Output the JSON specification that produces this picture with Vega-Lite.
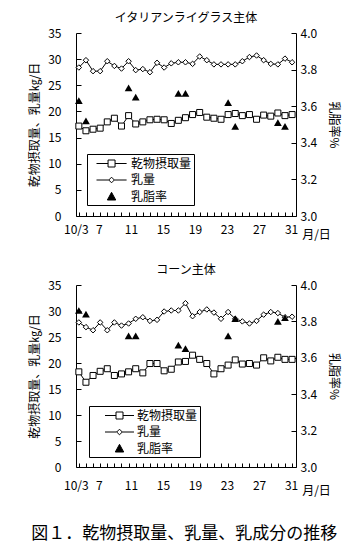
{
  "$schema": "https://vega.github.io/schema/vega-lite/v6.json",
  "padding": {"left": 28, "top": 12, "right": 8, "bottom": 8},
  "spacing": 24,
  "config": {
    "font": "Noto Sans CJK JP",
    "view": {"stroke": null},
    "axis": {"domainColor": "black", "tickColor": "black", "labelColor": "black", "titleColor": "black", "grid": false, "labelFontSize": 12, "titleFontSize": 12, "titleFontWeight": "normal", "tickSize": -5, "domainWidth": 1, "tickWidth": 1, "labelFont": "Noto Sans CJK JP", "titleFont": "Noto Sans CJK JP"},
    "axisLeft": {"labelPadding": 20, "titlePadding": 6},
    "axisRight": {"labelPadding": 9, "titlePadding": 10},
    "title": {"fontWeight": "normal", "fontSize": 12, "color": "black", "font": "Noto Sans CJK JP"},
    "legend": {"labelColor": "black"}
  },
  "title": {"text": "図１．乾物摂取量、乳量、乳成分の推移", "orient": "bottom", "anchor": "middle", "fontSize": 17, "offset": 30},
  "resolve": {"scale": {"shape": "independent", "fill": "independent", "stroke": "independent"}, "legend": {"shape": "independent", "fill": "independent", "stroke": "independent"}},
  "datasets": {
    "italian": [
      {"day": 3, "dmi": 17.2, "milk": 28.4, "fat": 3.63},
      {"day": 4, "dmi": 16.3, "milk": 29.8, "fat": 3.52},
      {"day": 5, "dmi": 16.6, "milk": 27.7},
      {"day": 6, "dmi": 16.8, "milk": 27.7},
      {"day": 7, "dmi": 18.0, "milk": 29.6},
      {"day": 8, "dmi": 18.7, "milk": 28.7},
      {"day": 9, "dmi": 17.2, "milk": 28.2},
      {"day": 10, "dmi": 19.2, "milk": 29.6, "fat": 3.70},
      {"day": 11, "dmi": 17.6, "milk": 27.9, "fat": 3.65},
      {"day": 12, "dmi": 18.0, "milk": 28.1},
      {"day": 13, "dmi": 18.4, "milk": 27.5},
      {"day": 14, "dmi": 18.5, "milk": 29.3},
      {"day": 15, "dmi": 18.4, "milk": 28.4},
      {"day": 16, "dmi": 17.7, "milk": 29.2},
      {"day": 17, "dmi": 18.3, "milk": 29.4, "fat": 3.67},
      {"day": 18, "dmi": 18.8, "milk": 29.4, "fat": 3.67},
      {"day": 19, "dmi": 19.4, "milk": 29.1},
      {"day": 20, "dmi": 19.8, "milk": 30.5},
      {"day": 21, "dmi": 18.9, "milk": 29.8},
      {"day": 22, "dmi": 18.7, "milk": 29.0},
      {"day": 23, "dmi": 18.5, "milk": 29.0},
      {"day": 24, "dmi": 19.4, "milk": 29.0, "fat": 3.62},
      {"day": 25, "dmi": 19.6, "milk": 29.0, "fat": 3.49},
      {"day": 26, "dmi": 19.2, "milk": 29.6},
      {"day": 27, "dmi": 19.4, "milk": 30.4},
      {"day": 28, "dmi": 18.5, "milk": 30.7},
      {"day": 29, "dmi": 19.3, "milk": 29.8},
      {"day": 30, "dmi": 19.1, "milk": 29.1},
      {"day": 31, "dmi": 19.7, "milk": 29.0, "fat": 3.51},
      {"day": 32, "dmi": 19.2, "milk": 30.1, "fat": 3.49},
      {"day": 33, "dmi": 19.4, "milk": 29.4}
    ],
    "corn": [
      {"day": 3, "dmi": 18.3, "milk": 27.8, "fat": 3.86},
      {"day": 4, "dmi": 16.3, "milk": 26.9, "fat": 3.84},
      {"day": 5, "dmi": 17.6, "milk": 26.3},
      {"day": 6, "dmi": 18.4, "milk": 27.8},
      {"day": 7, "dmi": 18.9, "milk": 26.3},
      {"day": 8, "dmi": 17.6, "milk": 27.8},
      {"day": 9, "dmi": 17.9, "milk": 27.2},
      {"day": 10, "dmi": 18.3, "milk": 27.6, "fat": 3.72},
      {"day": 11, "dmi": 18.9, "milk": 28.5, "fat": 3.72},
      {"day": 12, "dmi": 18.1, "milk": 28.8},
      {"day": 13, "dmi": 19.9, "milk": 28.1},
      {"day": 14, "dmi": 19.9, "milk": 28.3},
      {"day": 15, "dmi": 18.5, "milk": 29.9},
      {"day": 16, "dmi": 18.8, "milk": 30.1},
      {"day": 17, "dmi": 20.2, "milk": 30.1, "fat": 3.67},
      {"day": 18, "dmi": 20.3, "milk": 31.5, "fat": 3.65},
      {"day": 19, "dmi": 21.5, "milk": 29.0},
      {"day": 20, "dmi": 20.7, "milk": 29.8},
      {"day": 21, "dmi": 19.9, "milk": 30.3},
      {"day": 22, "dmi": 17.9, "milk": 29.7},
      {"day": 23, "dmi": 18.9, "milk": 28.5},
      {"day": 24, "dmi": 19.6, "milk": 29.8, "fat": 3.72},
      {"day": 25, "dmi": 20.6, "milk": 28.5, "fat": 3.815},
      {"day": 26, "dmi": 19.8, "milk": 28.0},
      {"day": 27, "dmi": 19.9, "milk": 27.6},
      {"day": 28, "dmi": 19.6, "milk": 28.1},
      {"day": 29, "dmi": 21.0, "milk": 29.3},
      {"day": 30, "dmi": 20.4, "milk": 29.8},
      {"day": 31, "dmi": 21.1, "milk": 29.6, "fat": 3.80},
      {"day": 32, "dmi": 20.7, "milk": 28.8, "fat": 3.82},
      {"day": 33, "dmi": 20.7, "milk": 28.9}
    ]
  },
  "vconcat": [
    {
      "title": {"text": "イタリアンライグラス主体", "offset": 2},
      "width": 220,
      "height": 183,
      "data": {"name": "italian"},
      "encoding": {
        "x": {"field": "day", "type": "quantitative", "scale": {"domain": [2.6, 33.55], "nice": false, "zero": false},
          "axis": {"values": [3,4,5,6,7,8,9,10,11,12,13,14,15,16,17,18,19,20,21,22,23,24,25,26,27,28,29,30,31,32,33],
            "labelExpr": "datum.value == 3 ? '10/3' : ((datum.value - 3) % 4 == 0 && datum.value <= 31 ? '' + datum.value : '')",
            "labelOffset": {"expr": "datum.value == 3 ? -3 : (datum.value - 7) * 0.9 - 8.4"},
            "labelOverlap": false, "labelFlush": false, "labelPadding": 12, "tickSize": -4,
            "title": "月/日", "titleX": 240, "titleY": 18, "titleAngle": 0, "titleBaseline": "middle", "titleAlign": "center", "titlePadding": 0}}
      },
      "layer": [
        {
          "layer": [
            {"mark": {"type": "line", "color": "black", "strokeWidth": 1},
             "encoding": {"y": {"field": "dmi", "type": "quantitative", "scale": {"domain": [0, 35], "nice": false}, "axis": {"values": [0,5,10,15,20,25,30,35], "title": "乾物摂取量、乳量㎏/日", "orient": "left"}}}},
            {"mark": {"type": "line", "color": "black", "strokeWidth": 1},
             "encoding": {"y": {"field": "milk", "type": "quantitative", "scale": {"domain": [0, 35], "nice": false}, "axis": {"values": [0,5,10,15,20,25,30,35], "title": "乾物摂取量、乳量㎏/日", "orient": "left"}}}},
            {"mark": {"type": "point", "shape": "square", "filled": true, "fill": "white", "stroke": "black", "strokeWidth": 1, "size": 36, "opacity": 1},
             "encoding": {"y": {"field": "dmi", "type": "quantitative", "scale": {"domain": [0, 35], "nice": false}, "axis": {"values": [0,5,10,15,20,25,30,35], "title": "乾物摂取量、乳量㎏/日", "orient": "left"}}}},
            {"mark": {"type": "point", "shape": "diamond", "filled": true, "fill": "white", "stroke": "black", "strokeWidth": 1, "size": 30, "opacity": 1},
             "encoding": {"y": {"field": "milk", "type": "quantitative", "scale": {"domain": [0, 35], "nice": false}, "axis": {"values": [0,5,10,15,20,25,30,35], "title": "乾物摂取量、乳量㎏/日", "orient": "left"}}}},
            {"transform": [{"filter": "datum.day < 0"}],
             "mark": {"type": "point", "filled": true, "strokeWidth": 1, "opacity": 1},
             "encoding": {
               "y": {"field": "dmi", "type": "quantitative", "scale": {"domain": [0, 35], "nice": false}, "axis": {"values": [0,5,10,15,20,25,30,35], "title": "乾物摂取量、乳量㎏/日", "orient": "left"}},
               "shape": {"field": "series", "type": "nominal",
                 "scale": {"domain": ["乾物摂取量", "乳量", "乳脂率"], "range": ["M0,0H1.65M2.65,0H4.3M1.65,-0.5H2.65V0.5H1.65Z", "M0,0H1.75M2.55,0H4.3M2.15,-0.4L2.55,0L2.15,0.4L1.75,0Z", "M2.15,-0.6L2.75,0.5L1.55,0.5Z"]},
                 "legend": {"orient": "none", "legendX": 11, "legendY": 121, "title": null, "strokeColor": "black", "fillColor": "white", "padding": 2, "symbolSize": 196, "labelFontSize": 12, "labelOffset": 27, "rowPadding": 2.5, "symbolStrokeWidth": 1, "cornerRadius": 0, "labelFont": "Noto Sans CJK JP"}},
               "fill": {"field": "series", "type": "nominal",
                 "scale": {"domain": ["乾物摂取量", "乳量", "乳脂率"], "range": ["white", "white", "black"]},
                 "legend": {"orient": "none", "legendX": 11, "legendY": 121, "title": null, "strokeColor": "black", "fillColor": "white", "padding": 2, "symbolSize": 196, "labelFontSize": 12, "labelOffset": 27, "rowPadding": 2.5, "symbolStrokeWidth": 1, "cornerRadius": 0, "labelFont": "Noto Sans CJK JP"}},
               "stroke": {"field": "series", "type": "nominal",
                 "scale": {"domain": ["乾物摂取量", "乳量", "乳脂率"], "range": ["black", "black", "black"]},
                 "legend": {"orient": "none", "legendX": 11, "legendY": 121, "title": null, "strokeColor": "black", "fillColor": "white", "padding": 2, "symbolSize": 196, "labelFontSize": 12, "labelOffset": 27, "rowPadding": 2.5, "symbolStrokeWidth": 1, "cornerRadius": 0, "labelFont": "Noto Sans CJK JP"}}
             }}
          ]
        },
        {"mark": {"type": "point", "shape": "triangle-up", "filled": true, "color": "black", "size": 60, "opacity": 1},
         "encoding": {"y": {"field": "fat", "type": "quantitative", "scale": {"domain": [3, 4], "nice": false, "zero": false}, "axis": {"orient": "right", "values": [3, 3.2, 3.4, 3.6, 3.8, 4], "format": ".1f", "title": "乳脂率%"}}}}
      ],
      "resolve": {"scale": {"y": "independent"}}
    },
    {
      "title": {"text": "コーン主体", "offset": 2},
      "width": 220,
      "height": 182,
      "data": {"name": "corn"},
      "encoding": {
        "x": {"field": "day", "type": "quantitative", "scale": {"domain": [2.6, 33.55], "nice": false, "zero": false},
          "axis": {"values": [3,4,5,6,7,8,9,10,11,12,13,14,15,16,17,18,19,20,21,22,23,24,25,26,27,28,29,30,31,32,33],
            "labelExpr": "datum.value == 3 ? '10/3' : ((datum.value - 3) % 4 == 0 && datum.value <= 31 ? '' + datum.value : '')",
            "labelOffset": {"expr": "datum.value == 3 ? -3 : (datum.value - 7) * 0.9 - 8.4"},
            "labelOverlap": false, "labelFlush": false, "labelPadding": 17, "tickSize": -4,
            "title": "月/日", "titleX": 240, "titleY": 23, "titleAngle": 0, "titleBaseline": "middle", "titleAlign": "center", "titlePadding": 0}}
      },
      "layer": [
        {
          "layer": [
            {"mark": {"type": "line", "color": "black", "strokeWidth": 1},
             "encoding": {"y": {"field": "dmi", "type": "quantitative", "scale": {"domain": [0, 35], "nice": false}, "axis": {"values": [0,5,10,15,20,25,30,35], "title": "乾物摂取量、乳量㎏/日", "orient": "left"}}}},
            {"mark": {"type": "line", "color": "black", "strokeWidth": 1},
             "encoding": {"y": {"field": "milk", "type": "quantitative", "scale": {"domain": [0, 35], "nice": false}, "axis": {"values": [0,5,10,15,20,25,30,35], "title": "乾物摂取量、乳量㎏/日", "orient": "left"}}}},
            {"mark": {"type": "point", "shape": "square", "filled": true, "fill": "white", "stroke": "black", "strokeWidth": 1, "size": 36, "opacity": 1},
             "encoding": {"y": {"field": "dmi", "type": "quantitative", "scale": {"domain": [0, 35], "nice": false}, "axis": {"values": [0,5,10,15,20,25,30,35], "title": "乾物摂取量、乳量㎏/日", "orient": "left"}}}},
            {"mark": {"type": "point", "shape": "diamond", "filled": true, "fill": "white", "stroke": "black", "strokeWidth": 1, "size": 30, "opacity": 1},
             "encoding": {"y": {"field": "milk", "type": "quantitative", "scale": {"domain": [0, 35], "nice": false}, "axis": {"values": [0,5,10,15,20,25,30,35], "title": "乾物摂取量、乳量㎏/日", "orient": "left"}}}},
            {"transform": [{"filter": "datum.day < 0"}],
             "mark": {"type": "point", "filled": true, "strokeWidth": 1, "opacity": 1},
             "encoding": {
               "y": {"field": "dmi", "type": "quantitative", "scale": {"domain": [0, 35], "nice": false}, "axis": {"values": [0,5,10,15,20,25,30,35], "title": "乾物摂取量、乳量㎏/日", "orient": "left"}},
               "shape": {"field": "series", "type": "nominal",
                 "scale": {"domain": ["乾物摂取量", "乳量", "乳脂率"], "range": ["M0.93,0H2.5M3.5,0H5.07M2.5,-0.5H3.5V0.5H2.5Z", "M0.93,0H2.6M3.4,0H5.07M3,-0.4L3.4,0L3,0.4L2.6,0Z", "M3,-0.6L3.6,0.5L2.4,0.5Z"]},
                 "legend": {"orient": "none", "legendX": 13, "legendY": 121, "title": null, "strokeColor": "black", "fillColor": "white", "padding": 2, "symbolSize": 196, "labelFontSize": 12, "labelOffset": 31, "rowPadding": 2.5, "symbolStrokeWidth": 1, "cornerRadius": 0, "labelFont": "Noto Sans CJK JP"}},
               "fill": {"field": "series", "type": "nominal",
                 "scale": {"domain": ["乾物摂取量", "乳量", "乳脂率"], "range": ["white", "white", "black"]},
                 "legend": {"orient": "none", "legendX": 13, "legendY": 121, "title": null, "strokeColor": "black", "fillColor": "white", "padding": 2, "symbolSize": 196, "labelFontSize": 12, "labelOffset": 31, "rowPadding": 2.5, "symbolStrokeWidth": 1, "cornerRadius": 0, "labelFont": "Noto Sans CJK JP"}},
               "stroke": {"field": "series", "type": "nominal",
                 "scale": {"domain": ["乾物摂取量", "乳量", "乳脂率"], "range": ["black", "black", "black"]},
                 "legend": {"orient": "none", "legendX": 13, "legendY": 121, "title": null, "strokeColor": "black", "fillColor": "white", "padding": 2, "symbolSize": 196, "labelFontSize": 12, "labelOffset": 31, "rowPadding": 2.5, "symbolStrokeWidth": 1, "cornerRadius": 0, "labelFont": "Noto Sans CJK JP"}}
             }}
          ]
        },
        {"mark": {"type": "point", "shape": "triangle-up", "filled": true, "color": "black", "size": 60, "opacity": 1},
         "encoding": {"y": {"field": "fat", "type": "quantitative", "scale": {"domain": [3, 4], "nice": false, "zero": false}, "axis": {"orient": "right", "values": [3, 3.2, 3.4, 3.6, 3.8, 4], "format": ".1f", "title": "乳脂率%"}}}}
      ],
      "resolve": {"scale": {"y": "independent"}}
    }
  ]
}
